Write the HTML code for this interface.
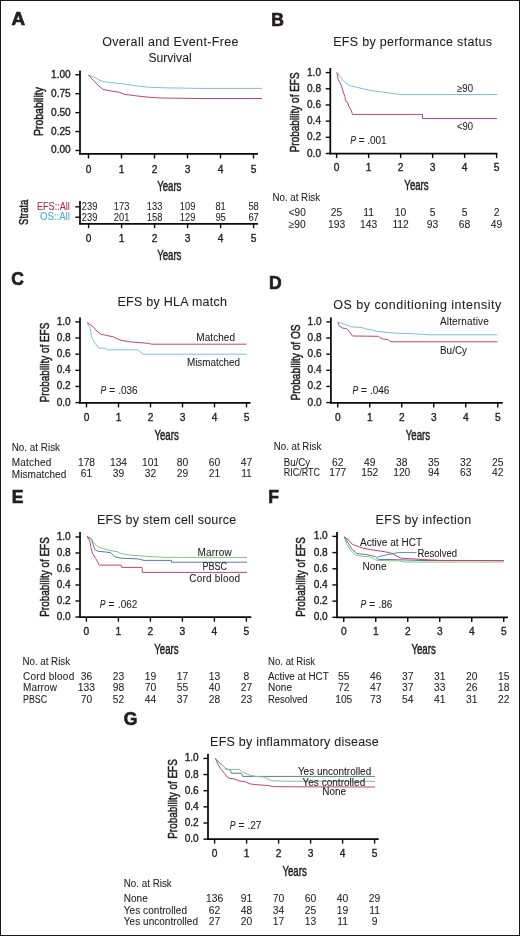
<!DOCTYPE html>
<html><head><meta charset="utf-8"><style>
html,body{margin:0;padding:0;background:#fff;}
svg{display:block;will-change:transform;}
text{font-family:"Liberation Sans", sans-serif;stroke-width:0;}
text.h{stroke-width:0.35px;}
text.hh{stroke-width:0.5px;}
text.m{stroke-width:0.08px;}
text.b{stroke-width:0.7px;}
</style></head><body>
<svg width="520" height="936" viewBox="0 0 520 936">
<rect x="0" y="0" width="520" height="936" fill="#fff"/>
<g fill="#231f20" stroke="#231f20" stroke-width="0">
<rect x="0.5" y="0.5" width="519" height="935" fill="none" stroke="#1a1a1a" stroke-width="1"/>
<text x="11.40" y="25.00" font-size="17.5" class="b" textLength="13.60" lengthAdjust="spacingAndGlyphs" font-weight="bold">A</text>
<text x="170.30" y="46.40" font-size="12.5" text-anchor="middle" class="m" textLength="136.20" lengthAdjust="spacing">Overall and Event-Free</text>
<text x="170.00" y="61.70" font-size="12.5" text-anchor="middle" class="m" textLength="43.20" lengthAdjust="spacingAndGlyphs">Survival</text>
<line x1="80.00" y1="70.50" x2="80.00" y2="154.65" stroke="#0a0a0a" stroke-width="1.75"/>
<line x1="79.25" y1="153.90" x2="258.00" y2="153.90" stroke="#0a0a0a" stroke-width="1.75"/>
<line x1="75.40" y1="74.80" x2="80.00" y2="74.80" stroke="#0a0a0a" stroke-width="1.4"/>
<text x="70.70" y="77.80" font-size="10.1" text-anchor="end" class="h" textLength="19.66" lengthAdjust="spacing">1.00</text>
<line x1="75.40" y1="93.72" x2="80.00" y2="93.72" stroke="#0a0a0a" stroke-width="1.4"/>
<text x="70.70" y="96.72" font-size="10.1" text-anchor="end" class="h" textLength="19.66" lengthAdjust="spacing">0.75</text>
<line x1="75.40" y1="112.64" x2="80.00" y2="112.64" stroke="#0a0a0a" stroke-width="1.4"/>
<text x="70.70" y="115.64" font-size="10.1" text-anchor="end" class="h" textLength="19.66" lengthAdjust="spacing">0.50</text>
<line x1="75.40" y1="131.56" x2="80.00" y2="131.56" stroke="#0a0a0a" stroke-width="1.4"/>
<text x="70.70" y="134.56" font-size="10.1" text-anchor="end" class="h" textLength="19.66" lengthAdjust="spacing">0.25</text>
<line x1="75.40" y1="150.48" x2="80.00" y2="150.48" stroke="#0a0a0a" stroke-width="1.4"/>
<text x="70.70" y="153.48" font-size="10.1" text-anchor="end" class="h" textLength="19.66" lengthAdjust="spacing">0.00</text>
<line x1="88.50" y1="153.90" x2="88.50" y2="158.50" stroke="#0a0a0a" stroke-width="1.4"/>
<text x="88.50" y="173.10" font-size="10.2" text-anchor="middle" class="h">0</text>
<line x1="121.50" y1="153.90" x2="121.50" y2="158.50" stroke="#0a0a0a" stroke-width="1.4"/>
<text x="121.50" y="173.10" font-size="10.2" text-anchor="middle" class="h">1</text>
<line x1="154.50" y1="153.90" x2="154.50" y2="158.50" stroke="#0a0a0a" stroke-width="1.4"/>
<text x="154.50" y="173.10" font-size="10.2" text-anchor="middle" class="h">2</text>
<line x1="187.50" y1="153.90" x2="187.50" y2="158.50" stroke="#0a0a0a" stroke-width="1.4"/>
<text x="187.50" y="173.10" font-size="10.2" text-anchor="middle" class="h">3</text>
<line x1="220.50" y1="153.90" x2="220.50" y2="158.50" stroke="#0a0a0a" stroke-width="1.4"/>
<text x="220.50" y="173.10" font-size="10.2" text-anchor="middle" class="h">4</text>
<line x1="253.50" y1="153.90" x2="253.50" y2="158.50" stroke="#0a0a0a" stroke-width="1.4"/>
<text x="253.50" y="173.10" font-size="10.2" text-anchor="middle" class="h">5</text>
<text x="43.20" y="111.60" font-size="12.3" text-anchor="middle" class="hh" textLength="49.00" lengthAdjust="spacingAndGlyphs" transform="rotate(-90 43.20 111.60)">Probability</text>
<text x="169.30" y="190.60" font-size="14" text-anchor="middle" class="hh" textLength="24.30" lengthAdjust="spacingAndGlyphs">Years</text>
<path d="M88.60,75.00 L94.80,77.50 L102.50,81.50 L111.70,82.60 L122.50,83.80 L134.80,85.70 L148.60,87.20 L164.00,87.80 L200.00,88.40 L262.00,88.40" stroke="#80c0d4" stroke-width="1.0" fill="none" stroke-linejoin="round"/>
<path d="M88.60,75.00 L93.20,80.30 L97.80,84.90 L103.20,89.50 L110.20,90.80 L119.40,92.30 L124.00,94.20 L134.80,95.70 L148.60,97.20 L160.90,98.00 L200.00,98.50 L262.00,98.50" stroke="#c0476b" stroke-width="1.0" fill="none" stroke-linejoin="round"/>
<text x="28.20" y="212.30" font-size="12.3" text-anchor="middle" class="hh" textLength="25.20" lengthAdjust="spacingAndGlyphs" transform="rotate(-90 28.20 212.30)">Strata</text>
<text x="69.90" y="209.90" font-size="10" text-anchor="end" fill="#a8304f" stroke="#a8304f" class="m" textLength="33.00" lengthAdjust="spacingAndGlyphs">EFS::All</text>
<text x="69.90" y="220.40" font-size="10" text-anchor="end" fill="#48b0d8" stroke="#48b0d8" class="m" textLength="30.00" lengthAdjust="spacingAndGlyphs">OS::All</text>
<line x1="80.00" y1="201.00" x2="80.00" y2="224.50" stroke="#0a0a0a" stroke-width="1.75"/>
<line x1="79.25" y1="223.75" x2="258.00" y2="223.75" stroke="#0a0a0a" stroke-width="1.75"/>
<line x1="75.30" y1="206.80" x2="80.00" y2="206.80" stroke="#0a0a0a" stroke-width="1.4"/>
<line x1="75.30" y1="217.20" x2="80.00" y2="217.20" stroke="#0a0a0a" stroke-width="1.4"/>
<text x="89.60" y="210.10" font-size="10.4" text-anchor="middle" class="m" textLength="15.62" lengthAdjust="spacingAndGlyphs">239</text>
<text x="89.60" y="220.60" font-size="10.4" text-anchor="middle" class="m" textLength="15.62" lengthAdjust="spacingAndGlyphs">239</text>
<line x1="88.60" y1="223.75" x2="88.60" y2="228.20" stroke="#0a0a0a" stroke-width="1.4"/>
<text x="88.60" y="242.10" font-size="10.2" text-anchor="middle" class="h">0</text>
<text x="121.60" y="210.10" font-size="10.4" text-anchor="middle" class="m" textLength="15.62" lengthAdjust="spacingAndGlyphs">173</text>
<text x="121.60" y="220.60" font-size="10.4" text-anchor="middle" class="m" textLength="15.62" lengthAdjust="spacingAndGlyphs">201</text>
<line x1="121.60" y1="223.75" x2="121.60" y2="228.20" stroke="#0a0a0a" stroke-width="1.4"/>
<text x="121.60" y="242.10" font-size="10.2" text-anchor="middle" class="h">1</text>
<text x="154.60" y="210.10" font-size="10.4" text-anchor="middle" class="m" textLength="15.62" lengthAdjust="spacingAndGlyphs">133</text>
<text x="154.60" y="220.60" font-size="10.4" text-anchor="middle" class="m" textLength="15.62" lengthAdjust="spacingAndGlyphs">158</text>
<line x1="154.60" y1="223.75" x2="154.60" y2="228.20" stroke="#0a0a0a" stroke-width="1.4"/>
<text x="154.60" y="242.10" font-size="10.2" text-anchor="middle" class="h">2</text>
<text x="187.60" y="210.10" font-size="10.4" text-anchor="middle" class="m" textLength="15.62" lengthAdjust="spacingAndGlyphs">109</text>
<text x="187.60" y="220.60" font-size="10.4" text-anchor="middle" class="m" textLength="15.62" lengthAdjust="spacingAndGlyphs">129</text>
<line x1="187.60" y1="223.75" x2="187.60" y2="228.20" stroke="#0a0a0a" stroke-width="1.4"/>
<text x="187.60" y="242.10" font-size="10.2" text-anchor="middle" class="h">3</text>
<text x="220.60" y="210.10" font-size="10.4" text-anchor="middle" class="m" textLength="10.41" lengthAdjust="spacingAndGlyphs">81</text>
<text x="220.60" y="220.60" font-size="10.4" text-anchor="middle" class="m" textLength="10.41" lengthAdjust="spacingAndGlyphs">95</text>
<line x1="220.60" y1="223.75" x2="220.60" y2="228.20" stroke="#0a0a0a" stroke-width="1.4"/>
<text x="220.60" y="242.10" font-size="10.2" text-anchor="middle" class="h">4</text>
<text x="253.60" y="210.10" font-size="10.4" text-anchor="middle" class="m" textLength="10.41" lengthAdjust="spacingAndGlyphs">58</text>
<text x="253.60" y="220.60" font-size="10.4" text-anchor="middle" class="m" textLength="10.41" lengthAdjust="spacingAndGlyphs">67</text>
<line x1="253.60" y1="223.75" x2="253.60" y2="228.20" stroke="#0a0a0a" stroke-width="1.4"/>
<text x="253.60" y="242.10" font-size="10.2" text-anchor="middle" class="h">5</text>
<text x="169.30" y="260.00" font-size="14" text-anchor="middle" class="hh" textLength="24.30" lengthAdjust="spacingAndGlyphs">Years</text>
<text x="271.20" y="25.90" font-size="17.5" class="b" font-weight="bold">B</text>
<text x="412.60" y="46.25" font-size="12.5" text-anchor="middle" class="m" textLength="158.75" lengthAdjust="spacing">EFS by performance status</text>
<line x1="330.30" y1="68.00" x2="330.30" y2="154.25" stroke="#0a0a0a" stroke-width="1.75"/>
<line x1="329.55" y1="153.50" x2="497.40" y2="153.50" stroke="#0a0a0a" stroke-width="1.75"/>
<line x1="325.70" y1="72.60" x2="330.30" y2="72.60" stroke="#0a0a0a" stroke-width="1.4"/>
<text x="321.00" y="75.60" font-size="10.1" text-anchor="end" class="h" textLength="14.04" lengthAdjust="spacing">1.0</text>
<line x1="325.70" y1="88.78" x2="330.30" y2="88.78" stroke="#0a0a0a" stroke-width="1.4"/>
<text x="321.00" y="91.78" font-size="10.1" text-anchor="end" class="h" textLength="14.04" lengthAdjust="spacing">0.8</text>
<line x1="325.70" y1="104.96" x2="330.30" y2="104.96" stroke="#0a0a0a" stroke-width="1.4"/>
<text x="321.00" y="107.96" font-size="10.1" text-anchor="end" class="h" textLength="14.04" lengthAdjust="spacing">0.6</text>
<line x1="325.70" y1="121.14" x2="330.30" y2="121.14" stroke="#0a0a0a" stroke-width="1.4"/>
<text x="321.00" y="124.14" font-size="10.1" text-anchor="end" class="h" textLength="14.04" lengthAdjust="spacing">0.4</text>
<line x1="325.70" y1="137.32" x2="330.30" y2="137.32" stroke="#0a0a0a" stroke-width="1.4"/>
<text x="321.00" y="140.32" font-size="10.1" text-anchor="end" class="h" textLength="14.04" lengthAdjust="spacing">0.2</text>
<line x1="325.70" y1="153.50" x2="330.30" y2="153.50" stroke="#0a0a0a" stroke-width="1.4"/>
<text x="321.00" y="156.50" font-size="10.1" text-anchor="end" class="h" textLength="14.04" lengthAdjust="spacing">0.0</text>
<line x1="336.60" y1="153.50" x2="336.60" y2="158.10" stroke="#0a0a0a" stroke-width="1.4"/>
<text x="336.60" y="171.00" font-size="10.2" text-anchor="middle" class="h">0</text>
<line x1="368.60" y1="153.50" x2="368.60" y2="158.10" stroke="#0a0a0a" stroke-width="1.4"/>
<text x="368.60" y="171.00" font-size="10.2" text-anchor="middle" class="h">1</text>
<line x1="400.60" y1="153.50" x2="400.60" y2="158.10" stroke="#0a0a0a" stroke-width="1.4"/>
<text x="400.60" y="171.00" font-size="10.2" text-anchor="middle" class="h">2</text>
<line x1="432.60" y1="153.50" x2="432.60" y2="158.10" stroke="#0a0a0a" stroke-width="1.4"/>
<text x="432.60" y="171.00" font-size="10.2" text-anchor="middle" class="h">3</text>
<line x1="464.60" y1="153.50" x2="464.60" y2="158.10" stroke="#0a0a0a" stroke-width="1.4"/>
<text x="464.60" y="171.00" font-size="10.2" text-anchor="middle" class="h">4</text>
<line x1="496.60" y1="153.50" x2="496.60" y2="158.10" stroke="#0a0a0a" stroke-width="1.4"/>
<text x="496.60" y="171.00" font-size="10.2" text-anchor="middle" class="h">5</text>
<text x="299.20" y="112.35" font-size="12.5" text-anchor="middle" class="hh" textLength="80.00" lengthAdjust="spacingAndGlyphs" transform="rotate(-90 299.20 112.35)">Probability of EFS</text>
<text x="416.50" y="190.00" font-size="14" text-anchor="middle" class="hh" textLength="24.30" lengthAdjust="spacingAndGlyphs">Years</text>
<path d="M336.90,72.50 L340.00,76.30 L342.90,80.20 L345.80,83.10 L349.60,85.60 L355.40,86.90 L363.10,88.80 L372.70,90.80 L390.00,93.10 L400.50,94.50 L497.00,94.50" stroke="#80c0d4" stroke-width="1.0" fill="none" stroke-linejoin="round"/>
<path d="M336.90,72.50 L338.10,79.20 L339.60,82.10 L341.50,86.00 L342.90,90.80 L344.80,96.50 L345.80,101.30 L347.70,102.30 L348.70,106.20 L350.00,108.10 L351.20,110.40 L352.50,114.40 L422.50,114.40 L422.50,118.50 L497.00,118.50" stroke="#c0476b" stroke-width="1.0" fill="none" stroke-linejoin="round"/>
<text x="465.00" y="91.50" font-size="10.5" text-anchor="middle" class="m" textLength="16.00" lengthAdjust="spacingAndGlyphs">≥90</text>
<text x="465.00" y="129.50" font-size="10.5" text-anchor="middle" class="m" textLength="16.00" lengthAdjust="spacingAndGlyphs">&lt;90</text>
<text x="350.20" y="144.10" font-size="10.2" class="m" textLength="5.78" lengthAdjust="spacingAndGlyphs" font-style="italic">P</text>
<text x="361.70" y="144.10" font-size="10" text-anchor="middle" class="m">=</text>
<text x="386.70" y="144.10" font-size="10" text-anchor="end" class="m">.001</text>
<text x="272.50" y="201.25" font-size="10" class="m" textLength="47.50" lengthAdjust="spacingAndGlyphs">No. at Risk</text>
<text x="288.75" y="216.25" font-size="10.5" class="m" textLength="17.00" lengthAdjust="spacingAndGlyphs">&lt;90</text>
<text x="288.75" y="227.50" font-size="10.5" class="m" textLength="17.00" lengthAdjust="spacingAndGlyphs">≥90</text>
<text x="336.60" y="216.25" font-size="10.3" text-anchor="middle" class="m">25</text>
<text x="336.60" y="227.50" font-size="10.3" text-anchor="middle" class="m">193</text>
<text x="368.60" y="216.25" font-size="10.3" text-anchor="middle" class="m">11</text>
<text x="368.60" y="227.50" font-size="10.3" text-anchor="middle" class="m">143</text>
<text x="400.60" y="216.25" font-size="10.3" text-anchor="middle" class="m">10</text>
<text x="400.60" y="227.50" font-size="10.3" text-anchor="middle" class="m">112</text>
<text x="432.60" y="216.25" font-size="10.3" text-anchor="middle" class="m">5</text>
<text x="432.60" y="227.50" font-size="10.3" text-anchor="middle" class="m">93</text>
<text x="464.60" y="216.25" font-size="10.3" text-anchor="middle" class="m">5</text>
<text x="464.60" y="227.50" font-size="10.3" text-anchor="middle" class="m">68</text>
<text x="496.60" y="216.25" font-size="10.3" text-anchor="middle" class="m">2</text>
<text x="496.60" y="227.50" font-size="10.3" text-anchor="middle" class="m">49</text>
<text x="11.30" y="285.00" font-size="17.5" class="b" font-weight="bold">C</text>
<text x="172.25" y="305.50" font-size="12.5" text-anchor="middle" class="m" textLength="109.50" lengthAdjust="spacing">EFS by HLA match</text>
<line x1="80.00" y1="317.50" x2="80.00" y2="403.55" stroke="#0a0a0a" stroke-width="1.75"/>
<line x1="79.25" y1="402.80" x2="250.50" y2="402.80" stroke="#0a0a0a" stroke-width="1.75"/>
<line x1="75.40" y1="321.90" x2="80.00" y2="321.90" stroke="#0a0a0a" stroke-width="1.4"/>
<text x="70.70" y="324.90" font-size="10.1" text-anchor="end" class="h" textLength="14.04" lengthAdjust="spacing">1.0</text>
<line x1="75.40" y1="338.04" x2="80.00" y2="338.04" stroke="#0a0a0a" stroke-width="1.4"/>
<text x="70.70" y="341.04" font-size="10.1" text-anchor="end" class="h" textLength="14.04" lengthAdjust="spacing">0.8</text>
<line x1="75.40" y1="354.18" x2="80.00" y2="354.18" stroke="#0a0a0a" stroke-width="1.4"/>
<text x="70.70" y="357.18" font-size="10.1" text-anchor="end" class="h" textLength="14.04" lengthAdjust="spacing">0.6</text>
<line x1="75.40" y1="370.32" x2="80.00" y2="370.32" stroke="#0a0a0a" stroke-width="1.4"/>
<text x="70.70" y="373.32" font-size="10.1" text-anchor="end" class="h" textLength="14.04" lengthAdjust="spacing">0.4</text>
<line x1="75.40" y1="386.46" x2="80.00" y2="386.46" stroke="#0a0a0a" stroke-width="1.4"/>
<text x="70.70" y="389.46" font-size="10.1" text-anchor="end" class="h" textLength="14.04" lengthAdjust="spacing">0.2</text>
<line x1="75.40" y1="402.60" x2="80.00" y2="402.60" stroke="#0a0a0a" stroke-width="1.4"/>
<text x="70.70" y="405.60" font-size="10.1" text-anchor="end" class="h" textLength="14.04" lengthAdjust="spacing">0.0</text>
<line x1="86.50" y1="402.80" x2="86.50" y2="407.40" stroke="#0a0a0a" stroke-width="1.4"/>
<text x="86.50" y="421.25" font-size="10.2" text-anchor="middle" class="h">0</text>
<line x1="118.50" y1="402.80" x2="118.50" y2="407.40" stroke="#0a0a0a" stroke-width="1.4"/>
<text x="118.50" y="421.25" font-size="10.2" text-anchor="middle" class="h">1</text>
<line x1="150.50" y1="402.80" x2="150.50" y2="407.40" stroke="#0a0a0a" stroke-width="1.4"/>
<text x="150.50" y="421.25" font-size="10.2" text-anchor="middle" class="h">2</text>
<line x1="182.50" y1="402.80" x2="182.50" y2="407.40" stroke="#0a0a0a" stroke-width="1.4"/>
<text x="182.50" y="421.25" font-size="10.2" text-anchor="middle" class="h">3</text>
<line x1="214.50" y1="402.80" x2="214.50" y2="407.40" stroke="#0a0a0a" stroke-width="1.4"/>
<text x="214.50" y="421.25" font-size="10.2" text-anchor="middle" class="h">4</text>
<line x1="246.50" y1="402.80" x2="246.50" y2="407.40" stroke="#0a0a0a" stroke-width="1.4"/>
<text x="246.50" y="421.25" font-size="10.2" text-anchor="middle" class="h">5</text>
<text x="49.20" y="362.50" font-size="12.5" text-anchor="middle" class="hh" textLength="79.60" lengthAdjust="spacingAndGlyphs" transform="rotate(-90 49.20 362.50)">Probability of EFS</text>
<text x="166.60" y="439.50" font-size="14" text-anchor="middle" class="hh" textLength="24.30" lengthAdjust="spacingAndGlyphs">Years</text>
<path d="M87.10,322.50 L93.20,326.80 L96.30,330.60 L100.90,334.20 L105.50,335.20 L113.20,336.80 L120.90,340.30 L130.20,341.80 L148.60,343.40 L151.70,344.20 L246.50,344.20" stroke="#c0476b" stroke-width="1.0" fill="none" stroke-linejoin="round"/>
<path d="M87.10,322.50 L90.20,328.30 L91.70,337.50 L94.80,342.90 L98.60,348.00 L105.50,348.30 L107.10,349.80 L137.80,349.80 L143.20,354.20 L246.50,354.20" stroke="#80c0d4" stroke-width="1.0" fill="none" stroke-linejoin="round"/>
<text x="235.00" y="340.75" font-size="10" text-anchor="end" class="m" textLength="38.75" lengthAdjust="spacing">Matched</text>
<text x="240.00" y="365.75" font-size="10" text-anchor="end" class="m" textLength="53.00" lengthAdjust="spacingAndGlyphs">Mismatched</text>
<text x="100.60" y="393.80" font-size="10.2" class="m" textLength="5.78" lengthAdjust="spacingAndGlyphs" font-style="italic">P</text>
<text x="112.10" y="393.80" font-size="10" text-anchor="middle" class="m">=</text>
<text x="137.60" y="393.80" font-size="10" text-anchor="end" class="m">.036</text>
<text x="11.75" y="451.25" font-size="10" class="m" textLength="48.25" lengthAdjust="spacingAndGlyphs">No. at Risk</text>
<text x="11.75" y="466.25" font-size="10" class="m" textLength="39.50" lengthAdjust="spacing">Matched</text>
<text x="11.75" y="477.50" font-size="10" class="m" textLength="54.50" lengthAdjust="spacing">Mismatched</text>
<text x="86.50" y="465.80" font-size="10.3" text-anchor="middle" class="m">178</text>
<text x="86.50" y="476.80" font-size="10.3" text-anchor="middle" class="m">61</text>
<text x="118.50" y="465.80" font-size="10.3" text-anchor="middle" class="m">134</text>
<text x="118.50" y="476.80" font-size="10.3" text-anchor="middle" class="m">39</text>
<text x="150.50" y="465.80" font-size="10.3" text-anchor="middle" class="m">101</text>
<text x="150.50" y="476.80" font-size="10.3" text-anchor="middle" class="m">32</text>
<text x="182.50" y="465.80" font-size="10.3" text-anchor="middle" class="m">80</text>
<text x="182.50" y="476.80" font-size="10.3" text-anchor="middle" class="m">29</text>
<text x="214.50" y="465.80" font-size="10.3" text-anchor="middle" class="m">60</text>
<text x="214.50" y="476.80" font-size="10.3" text-anchor="middle" class="m">21</text>
<text x="246.50" y="465.80" font-size="10.3" text-anchor="middle" class="m">47</text>
<text x="246.50" y="476.80" font-size="10.3" text-anchor="middle" class="m">11</text>
<text x="269.00" y="289.10" font-size="17.5" class="b" font-weight="bold">D</text>
<text x="417.25" y="308.75" font-size="12.5" text-anchor="middle" class="m" textLength="168.00" lengthAdjust="spacing">OS by conditioning intensity</text>
<line x1="330.90" y1="317.50" x2="330.90" y2="403.55" stroke="#0a0a0a" stroke-width="1.75"/>
<line x1="330.15" y1="402.80" x2="502.70" y2="402.80" stroke="#0a0a0a" stroke-width="1.75"/>
<line x1="326.30" y1="321.90" x2="330.90" y2="321.90" stroke="#0a0a0a" stroke-width="1.4"/>
<text x="321.60" y="324.90" font-size="10.1" text-anchor="end" class="h" textLength="14.04" lengthAdjust="spacing">1.0</text>
<line x1="326.30" y1="338.04" x2="330.90" y2="338.04" stroke="#0a0a0a" stroke-width="1.4"/>
<text x="321.60" y="341.04" font-size="10.1" text-anchor="end" class="h" textLength="14.04" lengthAdjust="spacing">0.8</text>
<line x1="326.30" y1="354.18" x2="330.90" y2="354.18" stroke="#0a0a0a" stroke-width="1.4"/>
<text x="321.60" y="357.18" font-size="10.1" text-anchor="end" class="h" textLength="14.04" lengthAdjust="spacing">0.6</text>
<line x1="326.30" y1="370.32" x2="330.90" y2="370.32" stroke="#0a0a0a" stroke-width="1.4"/>
<text x="321.60" y="373.32" font-size="10.1" text-anchor="end" class="h" textLength="14.04" lengthAdjust="spacing">0.4</text>
<line x1="326.30" y1="386.46" x2="330.90" y2="386.46" stroke="#0a0a0a" stroke-width="1.4"/>
<text x="321.60" y="389.46" font-size="10.1" text-anchor="end" class="h" textLength="14.04" lengthAdjust="spacing">0.2</text>
<line x1="326.30" y1="402.60" x2="330.90" y2="402.60" stroke="#0a0a0a" stroke-width="1.4"/>
<text x="321.60" y="405.60" font-size="10.1" text-anchor="end" class="h" textLength="14.04" lengthAdjust="spacing">0.0</text>
<line x1="337.75" y1="402.80" x2="337.75" y2="407.40" stroke="#0a0a0a" stroke-width="1.4"/>
<text x="337.75" y="421.25" font-size="10.2" text-anchor="middle" class="h">0</text>
<line x1="369.75" y1="402.80" x2="369.75" y2="407.40" stroke="#0a0a0a" stroke-width="1.4"/>
<text x="369.75" y="421.25" font-size="10.2" text-anchor="middle" class="h">1</text>
<line x1="401.75" y1="402.80" x2="401.75" y2="407.40" stroke="#0a0a0a" stroke-width="1.4"/>
<text x="401.75" y="421.25" font-size="10.2" text-anchor="middle" class="h">2</text>
<line x1="433.75" y1="402.80" x2="433.75" y2="407.40" stroke="#0a0a0a" stroke-width="1.4"/>
<text x="433.75" y="421.25" font-size="10.2" text-anchor="middle" class="h">3</text>
<line x1="465.75" y1="402.80" x2="465.75" y2="407.40" stroke="#0a0a0a" stroke-width="1.4"/>
<text x="465.75" y="421.25" font-size="10.2" text-anchor="middle" class="h">4</text>
<line x1="497.75" y1="402.80" x2="497.75" y2="407.40" stroke="#0a0a0a" stroke-width="1.4"/>
<text x="497.75" y="421.25" font-size="10.2" text-anchor="middle" class="h">5</text>
<text x="299.60" y="362.50" font-size="12.5" text-anchor="middle" class="hh" textLength="76.20" lengthAdjust="spacingAndGlyphs" transform="rotate(-90 299.60 362.50)">Probability of OS</text>
<text x="417.90" y="439.50" font-size="14" text-anchor="middle" class="hh" textLength="24.30" lengthAdjust="spacingAndGlyphs">Years</text>
<path d="M337.80,322.20 L343.20,323.70 L350.90,326.80 L361.70,327.50 L366.30,329.10 L370.90,329.50 L377.10,331.40 L395.50,333.20 L414.00,333.80 L430.00,334.80 L497.50,334.80" stroke="#80c0d4" stroke-width="1.0" fill="none" stroke-linejoin="round"/>
<path d="M337.80,322.20 L339.40,326.00 L342.50,328.00 L346.30,328.60 L347.80,329.80 L352.50,336.00 L378.60,336.30 L380.20,337.80 L383.20,339.10 L387.80,339.40 L390.90,341.80 L497.50,341.80" stroke="#c0476b" stroke-width="1.0" fill="none" stroke-linejoin="round"/>
<text x="440.00" y="325.00" font-size="10" class="m" textLength="48.75" lengthAdjust="spacing">Alternative</text>
<text x="440.00" y="353.75" font-size="10" class="m" textLength="27.00" lengthAdjust="spacingAndGlyphs">Bu/Cy</text>
<text x="352.40" y="393.50" font-size="10.2" class="m" textLength="5.78" lengthAdjust="spacingAndGlyphs" font-style="italic">P</text>
<text x="363.90" y="393.50" font-size="10" text-anchor="middle" class="m">=</text>
<text x="389.40" y="393.50" font-size="10" text-anchor="end" class="m">.046</text>
<text x="273.75" y="450.00" font-size="10" class="m" textLength="47.50" lengthAdjust="spacingAndGlyphs">No. at Risk</text>
<text x="283.75" y="465.50" font-size="10" class="m" textLength="26.25" lengthAdjust="spacingAndGlyphs">Bu/Cy</text>
<text x="283.75" y="476.25" font-size="10" class="m" textLength="36.25" lengthAdjust="spacingAndGlyphs">RIC/RTC</text>
<text x="337.75" y="465.50" font-size="10.3" text-anchor="middle" class="m">62</text>
<text x="337.75" y="476.25" font-size="10.3" text-anchor="middle" class="m">177</text>
<text x="369.75" y="465.50" font-size="10.3" text-anchor="middle" class="m">49</text>
<text x="369.75" y="476.25" font-size="10.3" text-anchor="middle" class="m">152</text>
<text x="401.75" y="465.50" font-size="10.3" text-anchor="middle" class="m">38</text>
<text x="401.75" y="476.25" font-size="10.3" text-anchor="middle" class="m">120</text>
<text x="433.75" y="465.50" font-size="10.3" text-anchor="middle" class="m">35</text>
<text x="433.75" y="476.25" font-size="10.3" text-anchor="middle" class="m">94</text>
<text x="465.75" y="465.50" font-size="10.3" text-anchor="middle" class="m">32</text>
<text x="465.75" y="476.25" font-size="10.3" text-anchor="middle" class="m">63</text>
<text x="497.75" y="465.50" font-size="10.3" text-anchor="middle" class="m">25</text>
<text x="497.75" y="476.25" font-size="10.3" text-anchor="middle" class="m">42</text>
<text x="11.80" y="502.50" font-size="17.5" class="b" font-weight="bold">E</text>
<text x="166.60" y="523.50" font-size="12.5" text-anchor="middle" class="m" textLength="139.25" lengthAdjust="spacing">EFS by stem cell source</text>
<line x1="80.00" y1="532.00" x2="80.00" y2="617.75" stroke="#0a0a0a" stroke-width="1.75"/>
<line x1="79.25" y1="617.00" x2="251.25" y2="617.00" stroke="#0a0a0a" stroke-width="1.75"/>
<line x1="75.40" y1="537.00" x2="80.00" y2="537.00" stroke="#0a0a0a" stroke-width="1.4"/>
<text x="70.70" y="540.00" font-size="10.1" text-anchor="end" class="h" textLength="14.04" lengthAdjust="spacing">1.0</text>
<line x1="75.40" y1="553.00" x2="80.00" y2="553.00" stroke="#0a0a0a" stroke-width="1.4"/>
<text x="70.70" y="556.00" font-size="10.1" text-anchor="end" class="h" textLength="14.04" lengthAdjust="spacing">0.8</text>
<line x1="75.40" y1="569.00" x2="80.00" y2="569.00" stroke="#0a0a0a" stroke-width="1.4"/>
<text x="70.70" y="572.00" font-size="10.1" text-anchor="end" class="h" textLength="14.04" lengthAdjust="spacing">0.6</text>
<line x1="75.40" y1="585.00" x2="80.00" y2="585.00" stroke="#0a0a0a" stroke-width="1.4"/>
<text x="70.70" y="588.00" font-size="10.1" text-anchor="end" class="h" textLength="14.04" lengthAdjust="spacing">0.4</text>
<line x1="75.40" y1="601.00" x2="80.00" y2="601.00" stroke="#0a0a0a" stroke-width="1.4"/>
<text x="70.70" y="604.00" font-size="10.1" text-anchor="end" class="h" textLength="14.04" lengthAdjust="spacing">0.2</text>
<line x1="75.40" y1="617.00" x2="80.00" y2="617.00" stroke="#0a0a0a" stroke-width="1.4"/>
<text x="70.70" y="620.00" font-size="10.1" text-anchor="end" class="h" textLength="14.04" lengthAdjust="spacing">0.0</text>
<line x1="86.40" y1="617.00" x2="86.40" y2="621.60" stroke="#0a0a0a" stroke-width="1.4"/>
<text x="86.40" y="635.00" font-size="10.2" text-anchor="middle" class="h">0</text>
<line x1="118.40" y1="617.00" x2="118.40" y2="621.60" stroke="#0a0a0a" stroke-width="1.4"/>
<text x="118.40" y="635.00" font-size="10.2" text-anchor="middle" class="h">1</text>
<line x1="150.40" y1="617.00" x2="150.40" y2="621.60" stroke="#0a0a0a" stroke-width="1.4"/>
<text x="150.40" y="635.00" font-size="10.2" text-anchor="middle" class="h">2</text>
<line x1="182.40" y1="617.00" x2="182.40" y2="621.60" stroke="#0a0a0a" stroke-width="1.4"/>
<text x="182.40" y="635.00" font-size="10.2" text-anchor="middle" class="h">3</text>
<line x1="214.40" y1="617.00" x2="214.40" y2="621.60" stroke="#0a0a0a" stroke-width="1.4"/>
<text x="214.40" y="635.00" font-size="10.2" text-anchor="middle" class="h">4</text>
<line x1="246.40" y1="617.00" x2="246.40" y2="621.60" stroke="#0a0a0a" stroke-width="1.4"/>
<text x="246.40" y="635.00" font-size="10.2" text-anchor="middle" class="h">5</text>
<text x="49.20" y="577.00" font-size="12.5" text-anchor="middle" class="hh" textLength="79.60" lengthAdjust="spacingAndGlyphs" transform="rotate(-90 49.20 577.00)">Probability of EFS</text>
<text x="166.40" y="653.75" font-size="14" text-anchor="middle" class="hh" textLength="24.30" lengthAdjust="spacingAndGlyphs">Years</text>
<path d="M87.10,536.60 L90.90,538.20 L93.20,542.00 L97.80,546.60 L104.00,548.90 L108.60,550.20 L117.10,551.70 L120.90,553.50 L130.20,555.10 L150.20,556.60 L164.00,557.30 L247.00,557.50" stroke="#8abf88" stroke-width="1.0" fill="none" stroke-linejoin="round"/>
<path d="M87.10,536.60 L91.70,539.70 L94.80,549.70 L97.80,551.20 L105.50,552.00 L110.90,552.80 L114.80,556.60 L120.90,558.20 L137.80,558.90 L144.00,560.40 L171.50,560.40 L171.50,562.20 L247.00,562.20" stroke="#51809f" stroke-width="1.0" fill="none" stroke-linejoin="round"/>
<path d="M87.10,536.60 L89.80,541.20 L90.90,547.40 L92.50,553.50 L95.50,558.20 L99.40,565.10 L121.00,565.10 L121.70,567.40 L142.00,567.40 L142.50,572.40 L247.00,572.40" stroke="#c0476b" stroke-width="1.0" fill="none" stroke-linejoin="round"/>
<text x="231.75" y="555.50" font-size="10" text-anchor="end" class="m" textLength="34.25" lengthAdjust="spacing">Marrow</text>
<text x="227.00" y="570.00" font-size="10" text-anchor="end" class="m" textLength="24.50" lengthAdjust="spacingAndGlyphs">PBSC</text>
<text x="240.00" y="582.00" font-size="10" text-anchor="end" class="m" textLength="50.75" lengthAdjust="spacing">Cord blood</text>
<text x="99.80" y="607.90" font-size="10.2" class="m" textLength="5.78" lengthAdjust="spacingAndGlyphs" font-style="italic">P</text>
<text x="111.30" y="607.90" font-size="10" text-anchor="middle" class="m">=</text>
<text x="137.40" y="607.90" font-size="10" text-anchor="end" class="m">.062</text>
<text x="22.50" y="665.00" font-size="10" class="m" textLength="47.50" lengthAdjust="spacingAndGlyphs">No. at Risk</text>
<text x="23.00" y="680.00" font-size="10" class="m" textLength="51.25" lengthAdjust="spacing">Cord blood</text>
<text x="23.00" y="691.25" font-size="10" class="m" textLength="34.00" lengthAdjust="spacing">Marrow</text>
<text x="23.00" y="702.50" font-size="10" class="m" textLength="24.00" lengthAdjust="spacingAndGlyphs">PBSC</text>
<text x="86.40" y="680.00" font-size="10.3" text-anchor="middle" class="m">36</text>
<text x="86.40" y="691.25" font-size="10.3" text-anchor="middle" class="m">133</text>
<text x="86.40" y="702.50" font-size="10.3" text-anchor="middle" class="m">70</text>
<text x="118.40" y="680.00" font-size="10.3" text-anchor="middle" class="m">23</text>
<text x="118.40" y="691.25" font-size="10.3" text-anchor="middle" class="m">98</text>
<text x="118.40" y="702.50" font-size="10.3" text-anchor="middle" class="m">52</text>
<text x="150.40" y="680.00" font-size="10.3" text-anchor="middle" class="m">19</text>
<text x="150.40" y="691.25" font-size="10.3" text-anchor="middle" class="m">70</text>
<text x="150.40" y="702.50" font-size="10.3" text-anchor="middle" class="m">44</text>
<text x="182.40" y="680.00" font-size="10.3" text-anchor="middle" class="m">17</text>
<text x="182.40" y="691.25" font-size="10.3" text-anchor="middle" class="m">55</text>
<text x="182.40" y="702.50" font-size="10.3" text-anchor="middle" class="m">37</text>
<text x="214.40" y="680.00" font-size="10.3" text-anchor="middle" class="m">13</text>
<text x="214.40" y="691.25" font-size="10.3" text-anchor="middle" class="m">40</text>
<text x="214.40" y="702.50" font-size="10.3" text-anchor="middle" class="m">28</text>
<text x="246.40" y="680.00" font-size="10.3" text-anchor="middle" class="m">8</text>
<text x="246.40" y="691.25" font-size="10.3" text-anchor="middle" class="m">27</text>
<text x="246.40" y="702.50" font-size="10.3" text-anchor="middle" class="m">23</text>
<text x="268.30" y="502.50" font-size="17.5" class="b" font-weight="bold">F</text>
<text x="423.40" y="523.75" font-size="12.5" text-anchor="middle" class="m" textLength="95.75" lengthAdjust="spacing">EFS by infection</text>
<line x1="337.00" y1="532.00" x2="337.00" y2="618.05" stroke="#0a0a0a" stroke-width="1.75"/>
<line x1="336.25" y1="617.30" x2="508.00" y2="617.30" stroke="#0a0a0a" stroke-width="1.75"/>
<line x1="332.40" y1="536.40" x2="337.00" y2="536.40" stroke="#0a0a0a" stroke-width="1.4"/>
<text x="327.70" y="539.40" font-size="10.1" text-anchor="end" class="h" textLength="14.04" lengthAdjust="spacing">1.0</text>
<line x1="332.40" y1="552.58" x2="337.00" y2="552.58" stroke="#0a0a0a" stroke-width="1.4"/>
<text x="327.70" y="555.58" font-size="10.1" text-anchor="end" class="h" textLength="14.04" lengthAdjust="spacing">0.8</text>
<line x1="332.40" y1="568.76" x2="337.00" y2="568.76" stroke="#0a0a0a" stroke-width="1.4"/>
<text x="327.70" y="571.76" font-size="10.1" text-anchor="end" class="h" textLength="14.04" lengthAdjust="spacing">0.6</text>
<line x1="332.40" y1="584.94" x2="337.00" y2="584.94" stroke="#0a0a0a" stroke-width="1.4"/>
<text x="327.70" y="587.94" font-size="10.1" text-anchor="end" class="h" textLength="14.04" lengthAdjust="spacing">0.4</text>
<line x1="332.40" y1="601.12" x2="337.00" y2="601.12" stroke="#0a0a0a" stroke-width="1.4"/>
<text x="327.70" y="604.12" font-size="10.1" text-anchor="end" class="h" textLength="14.04" lengthAdjust="spacing">0.2</text>
<line x1="332.40" y1="617.30" x2="337.00" y2="617.30" stroke="#0a0a0a" stroke-width="1.4"/>
<text x="327.70" y="620.30" font-size="10.1" text-anchor="end" class="h" textLength="14.04" lengthAdjust="spacing">0.0</text>
<line x1="343.75" y1="617.30" x2="343.75" y2="621.90" stroke="#0a0a0a" stroke-width="1.4"/>
<text x="343.75" y="635.00" font-size="10.2" text-anchor="middle" class="h">0</text>
<line x1="375.75" y1="617.30" x2="375.75" y2="621.90" stroke="#0a0a0a" stroke-width="1.4"/>
<text x="375.75" y="635.00" font-size="10.2" text-anchor="middle" class="h">1</text>
<line x1="407.75" y1="617.30" x2="407.75" y2="621.90" stroke="#0a0a0a" stroke-width="1.4"/>
<text x="407.75" y="635.00" font-size="10.2" text-anchor="middle" class="h">2</text>
<line x1="439.75" y1="617.30" x2="439.75" y2="621.90" stroke="#0a0a0a" stroke-width="1.4"/>
<text x="439.75" y="635.00" font-size="10.2" text-anchor="middle" class="h">3</text>
<line x1="471.75" y1="617.30" x2="471.75" y2="621.90" stroke="#0a0a0a" stroke-width="1.4"/>
<text x="471.75" y="635.00" font-size="10.2" text-anchor="middle" class="h">4</text>
<line x1="503.75" y1="617.30" x2="503.75" y2="621.90" stroke="#0a0a0a" stroke-width="1.4"/>
<text x="503.75" y="635.00" font-size="10.2" text-anchor="middle" class="h">5</text>
<text x="305.30" y="577.00" font-size="12.5" text-anchor="middle" class="hh" textLength="79.60" lengthAdjust="spacingAndGlyphs" transform="rotate(-90 305.30 577.00)">Probability of EFS</text>
<text x="423.60" y="653.75" font-size="14" text-anchor="middle" class="hh" textLength="24.30" lengthAdjust="spacingAndGlyphs">Years</text>
<path d="M344.30,536.90 L346.90,544.30 L350.80,550.50 L355.40,555.10 L363.10,556.30 L369.20,556.60 L375.40,559.70 L378.50,560.50 L400.00,560.90 L404.60,562.00 L503.75,562.00" stroke="#8abf88" stroke-width="1.0" fill="none" stroke-linejoin="round"/>
<path d="M344.30,536.90 L348.50,543.50 L352.30,549.70 L356.90,553.50 L367.70,554.80 L375.40,556.60 L378.50,559.40 L398.50,559.70 L420.00,560.50 L503.75,560.50" stroke="#51809f" stroke-width="1.0" fill="none" stroke-linejoin="round"/>
<path d="M344.30,536.90 L349.20,540.50 L352.30,544.30 L358.50,546.60 L363.10,548.20 L370.80,549.70 L384.60,551.70 L392.30,553.50 L396.90,556.30 L401.50,558.20 L420.00,559.40 L440.00,560.40 L503.75,560.60" stroke="#c0476b" stroke-width="1.0" fill="none" stroke-linejoin="round"/>
<path d="M377.70,556.80 L397.70,552.60 L416.50,552.60" stroke="#51809f" stroke-width="0.9" fill="none" stroke-linejoin="round"/>
<text x="360.00" y="546.00" font-size="10" class="m" textLength="62.00" lengthAdjust="spacing">Active at HCT</text>
<text x="417.50" y="557.00" font-size="10" class="m" textLength="39.50" lengthAdjust="spacingAndGlyphs">Resolved</text>
<text x="362.50" y="569.50" font-size="10" class="m" textLength="24.00" lengthAdjust="spacing">None</text>
<text x="360.60" y="607.90" font-size="10.2" class="m" textLength="5.78" lengthAdjust="spacingAndGlyphs" font-style="italic">P</text>
<text x="372.10" y="607.90" font-size="10" text-anchor="middle" class="m">=</text>
<text x="392.40" y="607.90" font-size="10" text-anchor="end" class="m">.86</text>
<text x="268.00" y="665.00" font-size="10" class="m" textLength="47.00" lengthAdjust="spacingAndGlyphs">No. at Risk</text>
<text x="268.00" y="680.00" font-size="10" class="m" textLength="60.75" lengthAdjust="spacingAndGlyphs">Active at HCT</text>
<text x="268.00" y="691.25" font-size="10" class="m" textLength="24.00" lengthAdjust="spacing">None</text>
<text x="268.00" y="702.50" font-size="10" class="m" textLength="39.50" lengthAdjust="spacingAndGlyphs">Resolved</text>
<text x="343.75" y="680.00" font-size="10.3" text-anchor="middle" class="m">55</text>
<text x="343.75" y="691.25" font-size="10.3" text-anchor="middle" class="m">72</text>
<text x="343.75" y="702.50" font-size="10.3" text-anchor="middle" class="m">105</text>
<text x="375.75" y="680.00" font-size="10.3" text-anchor="middle" class="m">46</text>
<text x="375.75" y="691.25" font-size="10.3" text-anchor="middle" class="m">47</text>
<text x="375.75" y="702.50" font-size="10.3" text-anchor="middle" class="m">73</text>
<text x="407.75" y="680.00" font-size="10.3" text-anchor="middle" class="m">37</text>
<text x="407.75" y="691.25" font-size="10.3" text-anchor="middle" class="m">37</text>
<text x="407.75" y="702.50" font-size="10.3" text-anchor="middle" class="m">54</text>
<text x="439.75" y="680.00" font-size="10.3" text-anchor="middle" class="m">31</text>
<text x="439.75" y="691.25" font-size="10.3" text-anchor="middle" class="m">33</text>
<text x="439.75" y="702.50" font-size="10.3" text-anchor="middle" class="m">41</text>
<text x="471.75" y="680.00" font-size="10.3" text-anchor="middle" class="m">20</text>
<text x="471.75" y="691.25" font-size="10.3" text-anchor="middle" class="m">26</text>
<text x="471.75" y="702.50" font-size="10.3" text-anchor="middle" class="m">31</text>
<text x="503.75" y="680.00" font-size="10.3" text-anchor="middle" class="m">15</text>
<text x="503.75" y="691.25" font-size="10.3" text-anchor="middle" class="m">18</text>
<text x="503.75" y="702.50" font-size="10.3" text-anchor="middle" class="m">22</text>
<text x="123.80" y="724.50" font-size="17.5" class="b" font-weight="bold">G</text>
<text x="294.40" y="746.20" font-size="12.5" text-anchor="middle" class="m" textLength="168.70" lengthAdjust="spacing">EFS by inflammatory disease</text>
<line x1="208.00" y1="753.80" x2="208.00" y2="839.75" stroke="#0a0a0a" stroke-width="1.75"/>
<line x1="207.25" y1="839.00" x2="378.70" y2="839.00" stroke="#0a0a0a" stroke-width="1.75"/>
<line x1="203.40" y1="758.40" x2="208.00" y2="758.40" stroke="#0a0a0a" stroke-width="1.4"/>
<text x="198.70" y="761.40" font-size="10.1" text-anchor="end" class="h" textLength="14.04" lengthAdjust="spacing">1.0</text>
<line x1="203.40" y1="774.55" x2="208.00" y2="774.55" stroke="#0a0a0a" stroke-width="1.4"/>
<text x="198.70" y="777.55" font-size="10.1" text-anchor="end" class="h" textLength="14.04" lengthAdjust="spacing">0.8</text>
<line x1="203.40" y1="790.70" x2="208.00" y2="790.70" stroke="#0a0a0a" stroke-width="1.4"/>
<text x="198.70" y="793.70" font-size="10.1" text-anchor="end" class="h" textLength="14.04" lengthAdjust="spacing">0.6</text>
<line x1="203.40" y1="806.85" x2="208.00" y2="806.85" stroke="#0a0a0a" stroke-width="1.4"/>
<text x="198.70" y="809.85" font-size="10.1" text-anchor="end" class="h" textLength="14.04" lengthAdjust="spacing">0.4</text>
<line x1="203.40" y1="823.00" x2="208.00" y2="823.00" stroke="#0a0a0a" stroke-width="1.4"/>
<text x="198.70" y="826.00" font-size="10.1" text-anchor="end" class="h" textLength="14.04" lengthAdjust="spacing">0.2</text>
<line x1="203.40" y1="839.15" x2="208.00" y2="839.15" stroke="#0a0a0a" stroke-width="1.4"/>
<text x="198.70" y="842.15" font-size="10.1" text-anchor="end" class="h" textLength="14.04" lengthAdjust="spacing">0.0</text>
<line x1="214.60" y1="839.00" x2="214.60" y2="843.60" stroke="#0a0a0a" stroke-width="1.4"/>
<text x="214.60" y="856.90" font-size="10.2" text-anchor="middle" class="h">0</text>
<line x1="246.60" y1="839.00" x2="246.60" y2="843.60" stroke="#0a0a0a" stroke-width="1.4"/>
<text x="246.60" y="856.90" font-size="10.2" text-anchor="middle" class="h">1</text>
<line x1="278.60" y1="839.00" x2="278.60" y2="843.60" stroke="#0a0a0a" stroke-width="1.4"/>
<text x="278.60" y="856.90" font-size="10.2" text-anchor="middle" class="h">2</text>
<line x1="310.60" y1="839.00" x2="310.60" y2="843.60" stroke="#0a0a0a" stroke-width="1.4"/>
<text x="310.60" y="856.90" font-size="10.2" text-anchor="middle" class="h">3</text>
<line x1="342.60" y1="839.00" x2="342.60" y2="843.60" stroke="#0a0a0a" stroke-width="1.4"/>
<text x="342.60" y="856.90" font-size="10.2" text-anchor="middle" class="h">4</text>
<line x1="374.60" y1="839.00" x2="374.60" y2="843.60" stroke="#0a0a0a" stroke-width="1.4"/>
<text x="374.60" y="856.90" font-size="10.2" text-anchor="middle" class="h">5</text>
<text x="177.00" y="799.00" font-size="12.5" text-anchor="middle" class="hh" textLength="79.60" lengthAdjust="spacingAndGlyphs" transform="rotate(-90 177.00 799.00)">Probability of EFS</text>
<text x="294.60" y="875.80" font-size="14" text-anchor="middle" class="hh" textLength="24.30" lengthAdjust="spacingAndGlyphs">Years</text>
<path d="M215.40,758.30 L218.20,761.70 L221.20,764.00 L223.50,766.30 L225.80,768.60 L230.50,770.20 L231.20,773.20 L241.20,773.20 L242.80,776.40 L375.00,776.40" stroke="#51809f" stroke-width="1.0" fill="none" stroke-linejoin="round"/>
<path d="M215.40,758.30 L219.70,763.20 L224.30,767.10 L225.80,769.40 L239.70,769.40 L242.00,771.70 L245.80,773.20 L248.90,774.80 L255.10,776.30 L264.30,777.10 L267.40,778.60 L272.00,780.90 L292.00,781.20 L375.00,781.30" stroke="#8abf88" stroke-width="1.0" fill="none" stroke-linejoin="round"/>
<path d="M215.40,758.30 L218.20,764.80 L221.20,769.40 L224.30,773.20 L227.40,777.10 L229.70,778.30 L235.10,779.10 L238.90,780.90 L245.10,781.70 L250.50,784.00 L258.20,784.80 L267.40,785.50 L273.50,786.60 L292.00,786.80 L375.00,787.00" stroke="#c0476b" stroke-width="1.0" fill="none" stroke-linejoin="round"/>
<text x="371.20" y="775.20" font-size="10" text-anchor="end" class="m" textLength="73.30" lengthAdjust="spacingAndGlyphs">Yes uncontrolled</text>
<text x="365.20" y="786.00" font-size="10" text-anchor="end" class="m" textLength="62.70" lengthAdjust="spacing">Yes controlled</text>
<text x="346.10" y="795.40" font-size="10" text-anchor="end" class="m" textLength="23.90" lengthAdjust="spacingAndGlyphs">None</text>
<text x="229.80" y="829.40" font-size="10.2" class="m" textLength="5.78" lengthAdjust="spacingAndGlyphs" font-style="italic">P</text>
<text x="241.30" y="829.40" font-size="10" text-anchor="middle" class="m">=</text>
<text x="261.30" y="829.40" font-size="10" text-anchor="end" class="m">.27</text>
<text x="123.75" y="887.00" font-size="10" class="m" textLength="48.00" lengthAdjust="spacingAndGlyphs">No. at Risk</text>
<text x="123.75" y="902.20" font-size="10" class="m" textLength="24.00" lengthAdjust="spacing">None</text>
<text x="123.75" y="913.50" font-size="10" class="m" textLength="63.25" lengthAdjust="spacing">Yes controlled</text>
<text x="123.75" y="924.80" font-size="10" class="m" textLength="74.25" lengthAdjust="spacing">Yes uncontrolled</text>
<text x="214.60" y="902.20" font-size="10.3" text-anchor="middle" class="m">136</text>
<text x="214.60" y="913.50" font-size="10.3" text-anchor="middle" class="m">62</text>
<text x="214.60" y="924.80" font-size="10.3" text-anchor="middle" class="m">27</text>
<text x="246.60" y="902.20" font-size="10.3" text-anchor="middle" class="m">91</text>
<text x="246.60" y="913.50" font-size="10.3" text-anchor="middle" class="m">48</text>
<text x="246.60" y="924.80" font-size="10.3" text-anchor="middle" class="m">20</text>
<text x="278.60" y="902.20" font-size="10.3" text-anchor="middle" class="m">70</text>
<text x="278.60" y="913.50" font-size="10.3" text-anchor="middle" class="m">34</text>
<text x="278.60" y="924.80" font-size="10.3" text-anchor="middle" class="m">17</text>
<text x="310.60" y="902.20" font-size="10.3" text-anchor="middle" class="m">60</text>
<text x="310.60" y="913.50" font-size="10.3" text-anchor="middle" class="m">25</text>
<text x="310.60" y="924.80" font-size="10.3" text-anchor="middle" class="m">13</text>
<text x="342.60" y="902.20" font-size="10.3" text-anchor="middle" class="m">40</text>
<text x="342.60" y="913.50" font-size="10.3" text-anchor="middle" class="m">19</text>
<text x="342.60" y="924.80" font-size="10.3" text-anchor="middle" class="m">11</text>
<text x="374.60" y="902.20" font-size="10.3" text-anchor="middle" class="m">29</text>
<text x="374.60" y="913.50" font-size="10.3" text-anchor="middle" class="m">11</text>
<text x="374.60" y="924.80" font-size="10.3" text-anchor="middle" class="m">9</text>
</g>
</svg></body></html>
